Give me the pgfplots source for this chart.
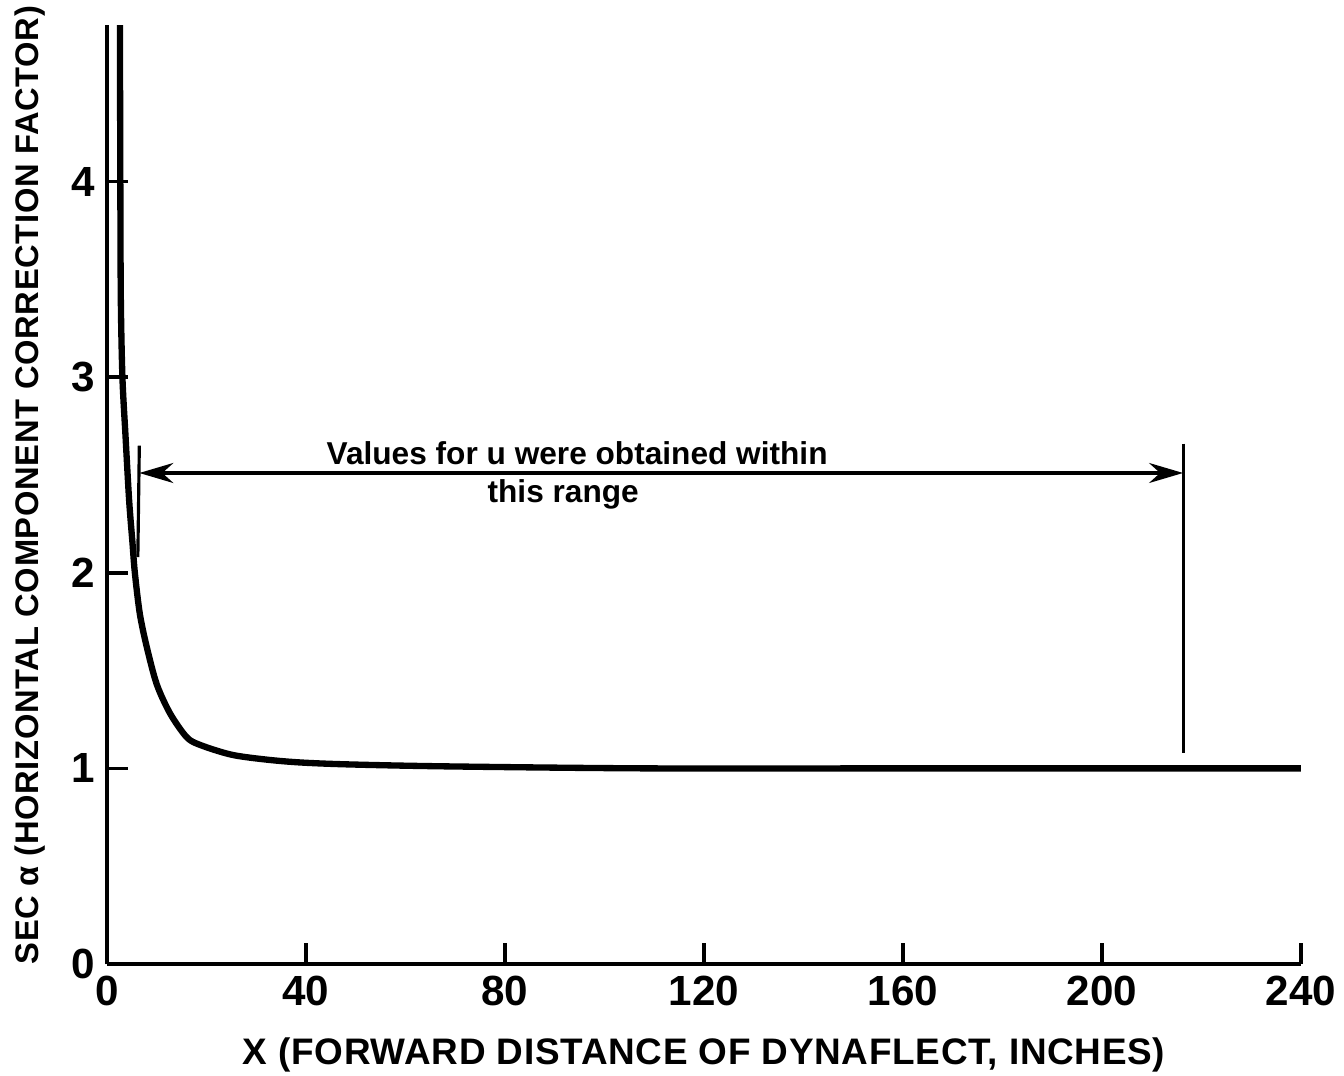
\documentclass[border=0pt]{standalone}
\usepackage{fontspec}
\setmainfont{Liberation Sans}
\usepackage{pgfplots}
\pgfplotsset{compat=1.18}
\usetikzlibrary{arrows.meta}

\pgfplotstableread{
x      y
2.6    4.80
2.68   4.00
2.78   3.40
3.1    3.00
3.7    2.71
4.45   2.37
5.1    2.16
5.6    2.00
6.6    1.79
8.0    1.62
10.0   1.43
12.7   1.28
16.0   1.16
18.7   1.12
25.0   1.07
32.0   1.045
39.0   1.03
49.0   1.02
69.0   1.01
109.0  1.00
160.0  1.00
240.0  1.00
}\secdata

\begin{document}
\begin{tikzpicture}
\begin{axis}[
  scale only axis,
  width=119.4mm, height=93.9mm,
  xmin=0, xmax=240, ymin=0, ymax=4.8,
  axis lines*=left,
  axis line style={line width=1.2pt},
  xtick={0,40,...,240}, ytick={0,1,2,3,4},
  tick align=inside,
  major tick length=2.1mm,
  tick style={line width=1pt,black},
  every tick label/.append style={font=\fontsize{12}{14}\selectfont\bfseries},
  /pgf/number format/assume math mode=true,
  clip=false,
]
\addplot [black, line width=1.8pt, smooth] table {\secdata};
% range markers
\addplot [black, line width=0.9pt] coordinates {(6.5,2.65) (6.2,2.08)};
\addplot [black, line width=0.9pt] coordinates {(216.3,2.66) (216.3,1.08)};
\addplot [black, line width=0.9pt, {Stealth[length=3.4mm,width=2mm]}-{Stealth[length=3.4mm,width=2mm]}]
  coordinates {(6.5,2.51) (216.3,2.51)};
\node [font=\fontsize{9}{11}\selectfont\bfseries] at (axis cs:94.5,2.61) {Values for u were obtained within};
\node [font=\fontsize{9}{11}\selectfont\bfseries] at (axis cs:91.7,2.40) {this range};
% axis labels
\node [font=\fontsize{10.5}{12}\selectfont\bfseries\addfontfeature{LetterSpace=2}]
  at ([yshift=-9.1mm]rel axis cs:0.5,0) {X (FORWARD DISTANCE OF DYNAFLECT, INCHES)};
\node [rotate=90, font=\fontsize{9.3}{11}\selectfont\bfseries\addfontfeature{LetterSpace=2}]
  at ([xshift=-7.7mm]rel axis cs:0,0.51) {SEC α (HORIZONTAL COMPONENT CORRECTION FACTOR)};
\end{axis}
\pgfresetboundingbox
\useasboundingbox (-10.7mm,-11.2mm) rectangle (123.7mm,96.4mm);
\end{tikzpicture}
\end{document}
